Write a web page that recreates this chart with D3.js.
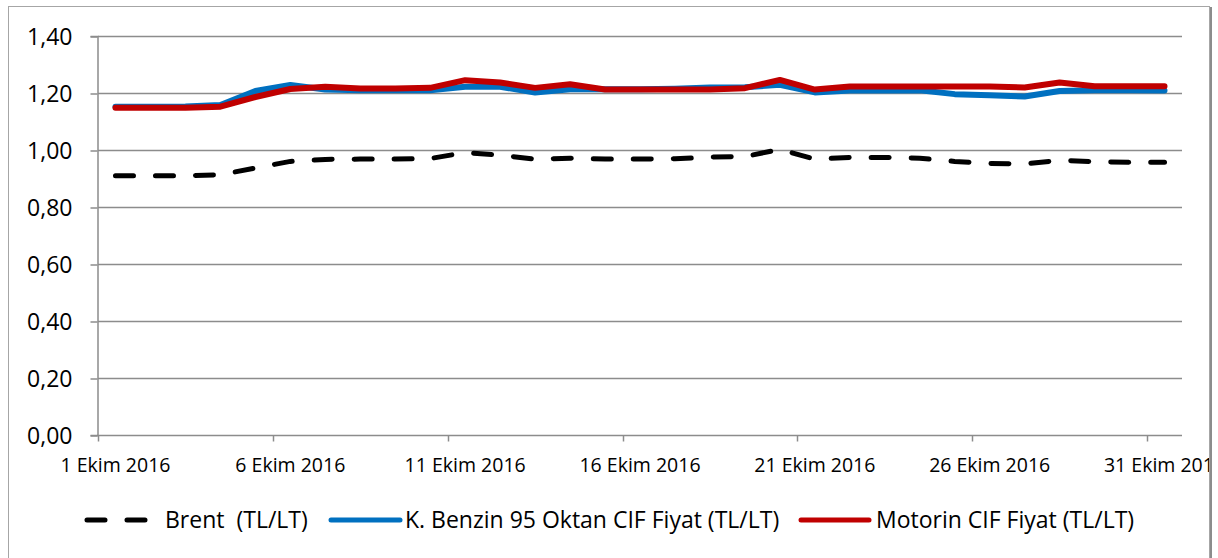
<!DOCTYPE html>
<html>
<head>
<meta charset="utf-8">
<script src="https://cdn.jsdelivr.net/npm/d3@7"></script>
<style>
  html, body { margin: 0; padding: 0; background: #fff; }
  svg { display: block; font-family: 'Open Sans', 'Noto Sans', sans-serif; }
</style>
</head>
<body>
<div id="chart"></div>
<script>
// days of October 2016
const days = d3.range(1, 32)
const tickDays = [1, 6, 11, 16, 21, 26, 31]
const yTicks = [0, 0.2, 0.4, 0.6, 0.8, 1.0, 1.2, 1.4]

const brent = [0.91, 0.91, 0.91, 0.913, 0.937, 0.96, 0.967, 0.968, 0.968, 0.97,
  0.991, 0.982, 0.968, 0.971, 0.968, 0.968, 0.969, 0.975, 0.977, 1.002,
  0.968, 0.974, 0.974, 0.971, 0.96, 0.953, 0.951, 0.964, 0.959, 0.957, 0.957]
const benzin = [1.152, 1.152, 1.153, 1.158, 1.207, 1.228, 1.212, 1.21, 1.21, 1.21,
  1.222, 1.222, 1.202, 1.213, 1.213, 1.213, 1.215, 1.219, 1.22, 1.229,
  1.202, 1.209, 1.209, 1.21, 1.196, 1.192, 1.188, 1.207, 1.21, 1.21, 1.209]
const motorin = [1.148, 1.148, 1.148, 1.152, 1.186, 1.214, 1.222, 1.216, 1.216, 1.218,
  1.245, 1.237, 1.218, 1.231, 1.212, 1.212, 1.212, 1.212, 1.217, 1.246,
  1.212, 1.223, 1.223, 1.223, 1.223, 1.223, 1.219, 1.237, 1.224, 1.224, 1.224]

const seriesNames = ['Brent  (TL/LT)', 'K. Benzin 95 Oktan CIF Fiyat (TL/LT)', 'Motorin CIF Fiyat (TL/LT)']

const width = 1218
const height = 558
const grid = '#8c8c8c'

const svg = d3.select('#chart')
  .append('svg')
  .attr('width', width)
  .attr('height', height)
  .attr('viewBox', `0 0 ${width} ${height}`)

// clip everything to the chart frame (last x label gets cut like the original)
svg.append('clipPath').attr('id', 'frame')
  .append('rect').attr('x', 9).attr('y', 7).attr('width', 1200).attr('height', 600)

// outer chart frame (bottom edge is out of view)
svg.append('rect')
  .attr('x', 8.5).attr('y', 6.5)
  .attr('width', 1201).attr('height', 600)
  .attr('fill', 'none')
  .attr('stroke', '#a6a6a6')
  .attr('stroke-width', 1)
svg.append('line')
  .attr('x1', 1211).attr('x2', 1211).attr('y1', 7).attr('y2', height)
  .attr('stroke', '#8c8c8c').attr('stroke-width', 2)

const body = svg.append('g').attr('clip-path', 'url(#frame)')

const x = d3.scaleBand().domain(days).range([98, 1182]).paddingInner(0).paddingOuter(0)
const y = d3.scaleLinear().domain([0, 1.4]).range([435, 36])
const xc = d => x(d) + x.bandwidth() / 2

// horizontal gridlines
body.append('g')
  .selectAll('line')
  .data(yTicks.filter(v => v > 0))
  .join('line')
  .attr('x1', 98).attr('x2', 1182)
  .attr('y1', d => Math.round(y(d)) + 0.5).attr('y2', d => Math.round(y(d)) + 0.5)
  .attr('stroke', grid).attr('stroke-width', 1.5)

// y axis
const yAxis = body.append('g')
  .attr('transform', 'translate(97.5,0)')
  .call(d3.axisLeft(y).tickValues(yTicks).tickSize(7).tickPadding(18)
    .tickFormat(d => d3.format('.2f')(d).replace('.', ',')))
yAxis.attr('font-family', null).attr('font-size', null)
yAxis.select('.domain').attr('stroke', grid).attr('stroke-width', 1.5)
yAxis.selectAll('.tick line').attr('stroke', grid).attr('stroke-width', 1.5)
  .attr('transform', 'translate(0,0.5)')
yAxis.selectAll('.tick text')
  .attr('fill', '#000').attr('font-size', 23)
  .attr('dy', '0.35em')

// x axis: ticks on day boundaries, labels centered in the day
const xAxis = body.append('g').attr('transform', 'translate(0,435.5)')
xAxis.append('line')
  .attr('x1', 97).attr('x2', 1182)
  .attr('stroke', grid).attr('stroke-width', 1.5)
xAxis.selectAll('line.tick')
  .data(tickDays)
  .join('line')
  .attr('class', 'tick')
  .attr('x1', d => Math.round(x(d)) + 0.5).attr('x2', d => Math.round(x(d)) + 0.5)
  .attr('y1', 0).attr('y2', 6)
  .attr('stroke', grid).attr('stroke-width', 1.5)
xAxis.selectAll('text')
  .data(tickDays)
  .join('text')
  .attr('x', d => xc(d))
  .attr('y', 36)
  .attr('text-anchor', 'middle')
  .attr('font-size', 19.5)
  .attr('fill', '#000')
  .text(d => `${d} Ekim 2016`)

const line = vals => d3.line()
  .x((v, i) => xc(days[i]))
  .y(v => y(v))(vals)

body.append('path')
  .attr('d', line(brent))
  .attr('fill', 'none')
  .attr('stroke', '#000')
  .attr('stroke-width', 5)
  .attr('stroke-dasharray', '18 22')
  .attr('stroke-linecap', 'round')

body.append('path')
  .attr('d', line(benzin))
  .attr('fill', 'none')
  .attr('stroke', '#0070c0')
  .attr('stroke-width', 6)
  .attr('stroke-linejoin', 'round')
  .attr('stroke-linecap', 'round')

body.append('path')
  .attr('d', line(motorin))
  .attr('fill', 'none')
  .attr('stroke', '#c00000')
  .attr('stroke-width', 6)
  .attr('stroke-linejoin', 'round')
  .attr('stroke-linecap', 'round')

// legend
const legendY = 520
const legend = body.append('g').attr('font-size', 23)
const items = [
  { name: seriesNames[0], x0: 87, x1: 148, color: '#000', dash: '18 22', tx: 165 },
  { name: seriesNames[1], x0: 331, x1: 400, color: '#0070c0', dash: null, tx: 405 },
  { name: seriesNames[2], x0: 801, x1: 869, color: '#c00000', dash: null, tx: 876 },
]
items.forEach(it => {
  legend.append('line')
    .attr('x1', it.x0).attr('x2', it.x1)
    .attr('y1', legendY).attr('y2', legendY)
    .attr('stroke', it.color)
    .attr('stroke-width', 5)
    .attr('stroke-linecap', 'round')
    .attr('stroke-dasharray', it.dash)
  legend.append('text')
    .attr('x', it.tx).attr('y', legendY)
    .attr('dy', '0.35em')
    .attr('fill', '#000')
    .style('white-space', 'pre')
    .text(it.name)
})
</script>
</body>
</html>
